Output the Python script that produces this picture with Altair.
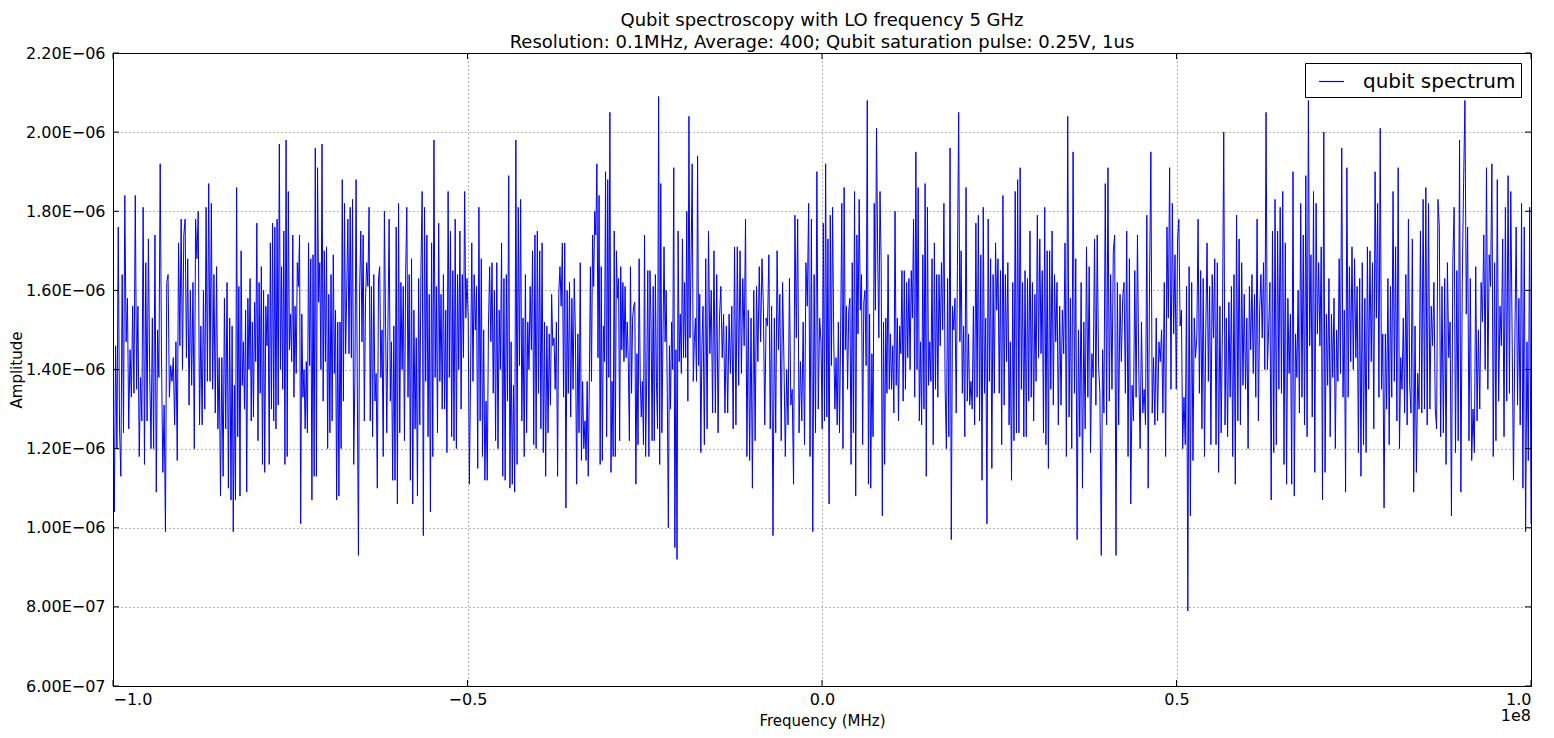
import altair as alt
import numpy as np
import pandas as pd

# Amplitude readings (units of 1e-6) read left-to-right, in 12 consecutive frequency segments
seg01 = [1.43,1.04,1.46,1.20,1.76,1.25,1.13,1.64,1.24,1.84,1.47,1.58,1.25,1.45,1.33,1.56,1.34,1.84,1.35,1.56,1.18,1.38,1.27,1.81,1.16,1.67,1.27,1.73,1.39,1.20,1.53,1.20,1.74,1.09,1.50,1.38,1.92,1.43,1.14,1.31,0.99,1.62,1.64,1.33,1.41,1.37,1.43,1.26,1.47,1.17,1.72,1.46,1.78,1.40,1.74,1.78,1.43,1.68,1.31,1.60,1.36,1.62,1.20,1.78,1.68,1.80,1.26,1.51,1.26,1.60,1.30,1.81,1.37,1.87,1.37,1.82,1.35,1.64,1.29,1.66,1.25,1.43,1.08,1.43,1.13,1.58,1.25,1.62,1.10,1.53]
seg02 = [1.07,1.51,0.99,1.36,1.07,1.86,1.23,1.61,1.08,1.70,1.36,1.47,1.30,1.55,1.09,1.58,1.40,1.63,1.27,1.52,1.28,1.57,1.42,1.77,1.22,1.62,1.34,1.66,1.16,1.60,1.14,1.56,1.46,1.59,1.16,1.72,1.30,1.77,1.27,1.76,1.25,1.78,1.31,1.97,1.40,1.66,1.35,1.75,1.16,1.98,1.18,1.85,1.45,1.54,1.42,1.74,1.33,1.56,1.39,1.67,1.61,1.74,1.01,1.54,1.33,1.40,1.25,1.42,1.24,1.72,1.41,1.68,1.07,1.69,1.13,1.96,1.13,1.91,1.57,1.67,1.40,1.97,1.32,1.70,1.42,1.71,1.20,1.59,1.24,1.64,1.27,1.69,1.39,1.55,1.07,1.52,1.08,1.52,1.20,1.88,1.32,1.82,1.44,1.60,1.78]
seg03 = [1.44,1.81,1.43,1.83,1.16,1.38,1.88,1.37,0.93,1.60,1.75,1.47,1.74,1.27,1.58,1.67,1.61,1.81,1.27,1.61,1.23,1.64,1.32,1.39,1.10,1.63,1.66,1.38,1.50,1.18,1.80,1.51,1.24,1.51,1.78,1.32,1.47,1.12,1.51,1.12,1.76,1.06,1.82,1.24,1.62,1.40,1.61,1.22,1.64,1.81,1.33,1.64,1.12,1.68,1.06,1.55,1.25,1.48,1.08,1.63,1.26,1.66,1.85,0.98,1.81,1.37,1.74,1.23,1.59,1.04,1.72,1.18,1.98,1.38,1.61,1.24,1.77,1.37,1.59,1.30,1.64,1.30,1.55,1.19,1.85,1.38,1.75,1.23,1.65,1.22,1.78,1.20,1.64,1.40,1.75,1.30,1.64,1.43,1.85,1.53]
seg04 = [1.63,1.53,1.11,1.38,1.72,1.37,1.64,1.50,1.61,1.15,1.81,1.27,1.68,1.18,1.50,1.12,1.32,1.12,1.51,1.66,1.47,1.67,1.34,1.60,1.22,1.67,1.20,1.55,1.40,1.72,1.13,1.63,1.12,1.64,1.32,1.89,1.10,1.47,1.11,1.36,1.09,1.98,1.16,1.81,1.41,1.83,1.27,1.53,1.18,1.64,1.24,1.52,1.40,1.61,1.45,1.70,1.21,1.74,1.20,1.75,1.34,1.70,1.25,1.72,1.19,1.52,1.13,1.51,1.24,1.49,1.31,1.59,1.46,1.48,1.35,1.52,1.13,1.59,1.66,1.56,1.72,1.33,1.72,1.05,1.60,1.34,1.62,1.28,1.58,1.35,1.63,1.48,1.11,1.49,1.24,1.67,1.17,1.37,1.20]
seg05 = [1.27,1.17,1.37,1.13,1.37,1.66,1.37,1.74,1.61,1.80,1.74,1.92,1.43,1.84,1.16,1.66,1.17,1.51,1.42,1.90,1.23,1.88,1.38,2.05,1.14,1.37,1.18,1.75,1.18,1.70,1.58,1.63,1.22,1.66,1.45,1.62,1.42,1.61,1.43,1.52,1.42,1.22,1.66,1.34,1.53,1.56,1.57,1.11,1.44,1.21,1.68,1.38,1.28,1.37,1.21,1.74,1.18,1.38,1.65,1.18,1.65,1.52,1.22,1.61,1.22,1.64,1.37,1.25,2.09,1.16,1.87,1.24,1.47,1.71,1.47,1.60,1.34,1.00,1.46,1.30,1.52,1.40,1.91,0.95,1.45,0.92,1.75,1.42,1.54,1.39,1.73,1.43,1.62,1.43,1.80,1.32,2.04,1.48,1.68,1.92,1.37,1.47,1.53,1.37,1.94,1.41,1.59,1.19,1.46]
seg06 = [1.56,1.21,1.68,1.25,1.75,1.44,1.60,1.29,1.70,1.29,1.64,1.24,1.53,1.61,1.43,1.54,1.29,1.51,1.29,1.54,1.39,1.56,1.25,1.71,1.26,1.71,1.36,1.70,1.39,1.63,1.46,1.78,1.18,1.55,1.17,1.53,1.10,1.60,1.22,1.61,1.42,1.66,1.47,1.68,1.56,1.26,1.53,1.51,1.69,1.25,1.56,0.98,1.53,1.24,1.70,1.45,1.59,1.22,1.62,1.42,1.18,1.40,1.26,1.63,1.31,1.35,1.11,1.79,1.48,1.78,1.24,1.42,1.27,1.52,1.21,1.67,1.56,1.82,1.18,1.78,0.99,1.64,1.24,1.90,1.30,1.53]
seg07 = [1.47,1.25,1.77,1.27,1.92,1.28,1.73,1.06,1.79,1.41,1.81,1.48,1.30,1.43,1.26,1.52,1.24,1.50,1.82,1.20,1.86,1.45,1.56,1.35,1.55,1.58,1.16,1.67,1.24,1.85,1.08,1.74,1.49,1.83,1.55,1.64,1.21,1.57,1.60,1.41,2.08,1.11,1.54,1.10,1.44,1.23,1.82,1.55,2.01,1.69,1.48,1.85,1.67,1.03,1.52,1.16,1.53,1.34,1.69,1.35,1.49,1.35,1.46,1.29,1.80,1.36,1.53,1.27,1.51,1.44,1.65,1.32,1.65,1.35,1.62,1.43,1.63,1.40,1.65,1.53,1.78,1.33,1.95,1.40,1.86,1.27,1.47,1.26,1.69,1.30,1.87,1.13,1.81,1.36,1.47,1.37,1.68,1.21,1.72,1.35,1.64,1.33]
seg08 = [1.64,1.46,1.67,1.50,1.82,1.35,1.20,1.63,1.23,1.96,0.97,1.56,1.50,1.58,1.29,1.66,2.05,1.47,1.70,1.34,1.51,1.23,1.86,1.32,1.49,1.31,1.37,1.30,1.56,1.26,1.77,1.33,1.79,1.27,1.69,1.12,1.81,1.34,1.53,1.01,1.78,1.37,1.68,1.15,1.64,1.34,1.72,1.55,1.68,1.34,1.65,1.21,1.84,1.31,1.64,1.42,1.67,1.26,1.47,1.12,1.62,1.22,1.85,1.24,1.88,1.24,1.91,1.35,1.62,1.23,1.65,1.23,1.63,1.32,1.75,1.33,1.62,1.27,1.59,1.37,1.79,1.43,1.73,1.44,1.65,1.24,1.81,1.21,1.70,1.15,1.70,1.35,1.75,1.31,1.64,1.47]
seg09 = [1.62,1.26,1.56,1.31,1.55,1.44,1.72,1.18,2.04,1.28,1.58,1.20,1.95,1.34,1.68,0.97,1.50,1.23,1.62,1.10,1.52,1.25,1.71,1.33,1.66,1.19,1.44,1.38,1.73,1.31,1.74,1.41,1.34,0.93,1.45,1.29,1.87,1.26,1.91,1.32,1.64,1.35,1.70,1.74,0.93,1.62,1.26,1.59,1.42,1.58,1.62,1.34,1.75,1.18,1.68,1.06,1.36,1.27,1.65,1.33,1.74,1.40,1.20,1.52,1.29,1.35,1.26,1.79,1.10,1.61,1.95,1.29,1.43,1.26,1.53,1.27,1.47,1.42,1.50,1.29,1.62,1.18,1.76,1.53,1.91,1.35,1.82,1.49]
seg10 = [1.69,1.35,1.73,1.78,1.51,1.55,1.20,1.33,1.21,1.61,0.79,1.66,1.03,1.62,1.17,1.53,1.43,1.48,1.78,1.34,1.65,1.25,1.63,1.18,1.50,1.72,1.37,1.61,1.21,1.64,1.48,1.68,1.21,1.67,1.14,1.56,1.24,1.51,2.00,1.26,1.53,1.23,1.57,1.33,1.61,1.18,1.64,1.11,1.79,1.27,1.73,1.26,1.67,1.36,1.59,1.35,1.53,1.20,1.61,1.45,1.64,1.39,1.59,1.33,1.78,1.27,1.55,1.64,1.48,1.67,1.40,2.05,1.40,1.50,1.62,1.07,1.75,1.19,1.83,1.21,1.75,1.35,1.81,1.34,1.85,1.16,1.72,1.11,1.58,1.39,1.54,1.11]
seg11 = [1.90,1.08,1.49,1.38,1.60,1.29,1.82,1.33,1.74,1.26,1.89,1.23,2.08,1.46,1.69,1.28,1.85,1.14,1.82,1.49,1.67,1.46,1.71,1.07,2.00,1.14,1.54,1.36,1.63,1.23,1.54,1.38,1.58,1.20,1.50,1.37,1.68,1.39,1.96,1.33,1.55,1.09,1.91,1.33,1.66,1.42,1.71,1.40,1.68,1.43,1.61,1.19,1.63,1.13,1.67,1.21,1.58,1.19,1.71,1.35,1.70,1.42,1.67,1.25,1.90,1.53,1.82,1.33,2.01,1.35,1.49,1.05,1.49,1.30,1.63,1.21,1.61,1.33,1.85,1.37,1.71,1.27,1.91,1.20,1.43,1.35,1.53,1.29,1.64,1.26,1.78,1.36]
seg12 = [1.29,1.73,1.09,1.51,1.14,1.39,1.30,1.75,1.29,1.83,1.30,1.86,1.26,1.82,1.30,1.56,1.46,1.62,1.30,1.25,1.83,1.76,1.23,1.61,1.24,1.63,1.16,1.67,1.43,1.52,1.03,1.67,1.81,1.19,1.65,1.22,1.98,1.09,1.61,1.87,2.08,1.54,1.76,1.22,1.63,1.17,1.30,1.19,1.66,1.27,1.50,1.30,1.62,1.52,1.74,1.40,1.91,1.35,1.69,1.61,1.92,1.18,1.67,1.22,1.88,1.32,1.56,1.46,1.73,1.23,1.81,1.32,1.89,1.34,1.85,1.49,1.12,1.47,1.76,1.31,1.58,1.26,1.82,1.10,1.76,0.99,1.47,1.17,1.81,1.01]

segments = [seg01, seg02, seg03, seg04, seg05, seg06, seg07, seg08, seg09, seg10, seg11, seg12]

f_min, f_max = -1e8, 1e8
# each segment covers an equal share of the band (the last one is slightly shorter)
seg_frac = 118 / 1418
freqs, amps = [], []
for i, seg in enumerate(segments):
    f0 = f_min + i * seg_frac * (f_max - f_min)
    last = i == len(segments) - 1
    f1 = f_max if last else f0 + seg_frac * (f_max - f_min)
    fs = np.linspace(f0, f1, len(seg), endpoint=last)
    freqs.extend(fs.tolist())
    amps.extend([v * 1e-6 for v in seg])

df = pd.DataFrame({"Frequency": freqs, "Amplitude": amps, "series": "qubit spectrum"})

y_ticks = [6e-7, 8e-7, 1.0e-6, 1.2e-6, 1.4e-6, 1.6e-6, 1.8e-6, 2.0e-6, 2.2e-6]
x_ticks = [-1e8, -5e7, 0, 5e7, 1e8]

FONT = "DejaVu Sans"
W, H = 1418, 633
TICK = 6

x_scale = alt.Scale(domain=[f_min, f_max], nice=False, zero=False)
y_scale = alt.Scale(domain=[6e-7, 2.2e-6], nice=False, zero=False)

line = alt.Chart(df).mark_line(strokeWidth=1, clip=True).encode(
    x=alt.X("Frequency:Q", scale=x_scale,
            axis=alt.Axis(values=x_ticks, labelExpr="format(datum.value / 1e8, '.1f')",
                          title="Frequency (MHz)", labelPadding=5, titlePadding=6)),
    y=alt.Y("Amplitude:Q", scale=y_scale,
            axis=alt.Axis(values=y_ticks,
                          labelExpr="replace(replace(format(datum.value, '.2e'), 'e-', 'E\u22120'), 'e\u2212', 'E\u22120')",
                          title="Amplitude", labelPadding=8,
                          titleX=-97, titleY=H / 2, titleAngle=270,
                          titleAlign="center", titleBaseline="middle")),
    color=alt.Color("series:N", scale=alt.Scale(range=["#0000ff"]),
                    legend=alt.Legend(title=None, orient="top-right", offset=10,
                                      symbolType="stroke", symbolSize=625, symbolStrokeWidth=1.2,
                                      symbolOffset=8,
                                      labelFontSize=20, labelFont=FONT, labelColor="black",
                                      strokeColor="black", fillColor="white", padding=5,
                                      cornerRadius=0, labelOffset=18)),
)

# inward tick marks on all four sides (matplotlib classic style)
ydf = pd.DataFrame({"Amplitude": y_ticks})
xdf = pd.DataFrame({"Frequency": x_ticks})
tick_left = alt.Chart(ydf).mark_rule(color="black", strokeWidth=1).encode(
    y=alt.Y("Amplitude:Q", scale=y_scale), x=alt.value(0), x2=alt.value(TICK))
tick_right = alt.Chart(ydf).mark_rule(color="black", strokeWidth=1).encode(
    y=alt.Y("Amplitude:Q", scale=y_scale), x=alt.value(W - TICK), x2=alt.value(W))
tick_bottom = alt.Chart(xdf).mark_rule(color="black", strokeWidth=1).encode(
    x=alt.X("Frequency:Q", scale=x_scale), y=alt.value(H - TICK), y2=alt.value(H))
tick_top = alt.Chart(xdf).mark_rule(color="black", strokeWidth=1).encode(
    x=alt.X("Frequency:Q", scale=x_scale), y=alt.value(0), y2=alt.value(TICK))

offset_txt = alt.Chart(pd.DataFrame({"t": ["1e8"]})).mark_text(
    align="right", baseline="top", fontSize=16, font=FONT, color="black"
).encode(x=alt.value(W), y=alt.value(H + 22), text="t:N")

chart = alt.layer(line, tick_left, tick_right, tick_bottom, tick_top, offset_txt).properties(
    width=W, height=H,
    title=alt.TitleParams(
        ["Qubit spectroscopy with LO frequency 5 GHz",
         "Resolution: 0.1MHz, Average: 400; Qubit saturation pulse: 0.25V, 1us"],
        fontSize=18, font=FONT, fontWeight="normal", anchor="middle", offset=-7,
        lineHeight=22, color="black"),
    autosize=alt.AutoSizeParams(type="none"),
    padding={"left": 105, "top": 45, "right": 15, "bottom": 50},
).configure_view(stroke="black", strokeWidth=1).configure_axis(
    grid=True, gridColor="black", gridDash=[1, 3], gridWidth=0.6, gridOpacity=1,
    domain=False, ticks=False, labelFont=FONT, labelFontSize=16, labelColor="black",
    titleFont=FONT, titleFontSize=15, titleFontWeight="normal", titleColor="black",
)

chart.save("out.html", embed_options={"renderer": "svg", "actions": False})
